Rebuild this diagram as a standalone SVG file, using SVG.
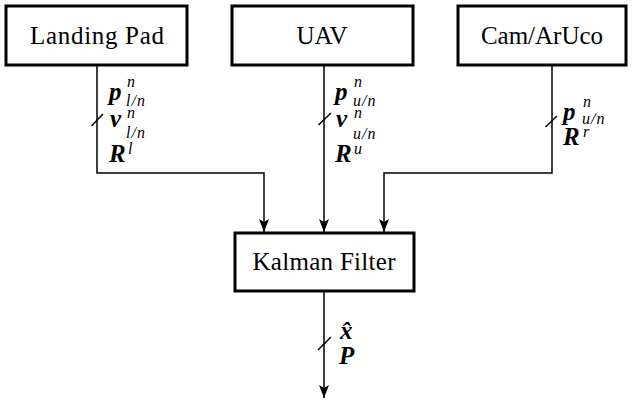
<svg xmlns="http://www.w3.org/2000/svg" width="632" height="404" viewBox="0 0 632 404">
  <style>
    text { font-family: "Liberation Serif", "DejaVu Serif", serif; fill: #000000; }
    .label { font-size: 25px; text-anchor: middle; }
    .box { fill: #ffffff; stroke: #000000; stroke-width: 3; }
    .wire { fill: none; stroke: #000000; stroke-width: 1.5; }
    .tick { fill: none; stroke: #000000; stroke-width: 1.5; }
    .m { font-style: italic; font-weight: bold; font-size: 25px; }
    .s { font-style: italic; font-weight: normal; font-size: 16px; letter-spacing: 1px; }
  </style>
  <defs>
    <marker id="arrow" markerUnits="userSpaceOnUse" markerWidth="14" markerHeight="12" viewBox="0 0 14 12" refX="13" refY="6" orient="auto">
      <path d="M0,1 L13,6 L0,11 L3,6 Z" fill="#000000"/>
    </marker>
  </defs>

  <!-- source nodes -->
  <g id="landing-pad">
    <rect class="box" x="6" y="6" width="181" height="59"/>
    <text class="label" x="97" y="44" textLength="134">Landing Pad</text>
  </g>
  <g id="uav">
    <rect class="box" x="232" y="6" width="181" height="59"/>
    <text class="label" x="322" y="44">UAV</text>
  </g>
  <g id="cam-aruco">
    <rect class="box" x="458" y="6" width="168" height="59"/>
    <text class="label" x="542" y="44">Cam/ArUco</text>
  </g>

  <!-- fusion node -->
  <g id="kalman-filter">
    <rect class="box" x="235" y="233" width="179" height="58"/>
    <text class="label" x="324" y="270" textLength="143">Kalman Filter</text>
  </g>

  <!-- connectors -->
  <g id="connectors">
    <path class="wire" d="M97,66 V173 H264 V232" marker-end="url(#arrow)"/>
    <path class="wire" d="M324,66 V232" marker-end="url(#arrow)"/>
    <path class="wire" d="M552,66 V173 H384 V232" marker-end="url(#arrow)"/>
    <path class="wire" d="M324,292 V398" marker-end="url(#arrow)"/>

    <!-- bus ticks -->
    <line class="tick" x1="91.5" y1="126" x2="103" y2="114"/>
    <line class="tick" x1="318.5" y1="125" x2="331" y2="113"/>
    <line class="tick" x1="545.5" y1="127" x2="557" y2="116"/>
    <line class="tick" x1="318" y1="350" x2="331" y2="337"/>
  </g>

  <!-- signal labels: landing pad -->
  <g id="labels-landing">
    <text class="m" x="109" y="100">p<tspan class="s" x="127" y="87">n</tspan><tspan class="s" x="126" y="106">l/n</tspan></text>
    <text class="m" x="110" y="127">v<tspan class="s" x="127" y="118">n</tspan><tspan class="s" x="126" y="138">l/n</tspan></text>
    <text class="m" x="109" y="162">R<tspan class="s" x="128" y="154">l</tspan></text>
  </g>

  <!-- signal labels: uav -->
  <g id="labels-uav">
    <text class="m" x="335" y="100">p<tspan class="s" x="354" y="87">n</tspan><tspan class="s" x="353" y="106">u/n</tspan></text>
    <text class="m" x="336" y="127">v<tspan class="s" x="354" y="118">n</tspan><tspan class="s" x="353" y="139">u/n</tspan></text>
    <text class="m" x="335" y="162">R<tspan class="s" x="354" y="154">u</tspan></text>
  </g>

  <!-- signal labels: camera -->
  <g id="labels-cam">
    <text class="m" x="563" y="120">p<tspan class="s" x="583" y="107">n</tspan><tspan class="s" x="582" y="124">u/n</tspan></text>
    <text class="m" x="563" y="145">R<tspan class="s" x="583" y="137">r</tspan></text>
  </g>

  <!-- output labels -->
  <g id="labels-output">
    <text class="m" x="340" y="339">x̂</text>
    <text class="m" x="339" y="364">P</text>
  </g>
</svg>
